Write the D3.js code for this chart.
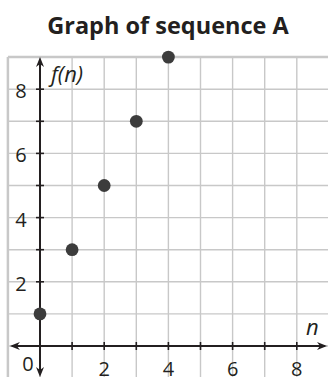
<!DOCTYPE html>
<html>
<head>
<meta charset="utf-8">
<script src="https://cdn.jsdelivr.net/npm/d3@7"></script>
<style>
  html, body { margin: 0; padding: 0; background: #fff; }
  svg { display: block; }
</style>
</head>
<body>
<svg id="chart" width="328" height="377"></svg>
<script>
// Sequence A: f(n) = 2n + 1 for n = 0..4
const nValues = [0, 1, 2, 3, 4];
const fValues = [1, 3, 5, 7, 9];
const xTickLabels = [2, 4, 6, 8];
const yTickLabels = [2, 4, 6, 8];
const tickMarks = [1, 2, 3, 4, 5, 6, 7, 8];
const gridLines = [-1, 0, 1, 2, 3, 4, 5, 6, 7, 8, 9];

const svg = d3.select("#chart");
const unit = 32.1;
const x0 = 40, y0 = 346;
const x = d3.scaleLinear().domain([-1, 9]).range([x0 - unit, x0 + 9 * unit]);
const y = d3.scaleLinear().domain([-1, 9]).range([y0 + unit, y0 - 9 * unit]);

const font = "'Open Sans', 'Noto Sans', sans-serif";
const ink = "#231f20";

// Title
svg.append("text")
  .attr("x", 168).attr("y", 34)
  .attr("text-anchor", "middle")
  .style("font-family", font).style("font-weight", 700).style("font-size", "23.5px")
  .attr("fill", ink)
  .text("Graph of sequence A");

// Grid
const grid = svg.append("g");
grid.selectAll("line.v").data(gridLines).join("line")
  .attr("x1", d => x(d)).attr("x2", d => x(d))
  .attr("y1", y(9)).attr("y2", y(-1))
  .attr("stroke", "#c8c8c8").attr("stroke-width", d => d === -1 ? 2.5 : 1.4);
grid.selectAll("line.h").data(gridLines).join("line")
  .attr("y1", d => y(d)).attr("y2", d => y(d))
  .attr("x1", x(-1)).attr("x2", x(9))
  .attr("stroke", "#c8c8c8").attr("stroke-width", d => d === 9 ? 2.5 : 1.4);

// Axes with arrows at both ends
const arrow = (tipX, tipY, angle) => {
  const len = 10, half = 4, notch = 7;
  svg.append("path")
    .attr("d", `M0,0 L${-len},${-half} L${-notch},0 L${-len},${half} Z`)
    .attr("transform", `translate(${tipX},${tipY}) rotate(${angle})`)
    .attr("fill", ink);
};
svg.append("line")
  .attr("x1", x(-1) + 4).attr("x2", 325)
  .attr("y1", y(0)).attr("y2", y(0))
  .attr("stroke", ink).attr("stroke-width", 2);
svg.append("line")
  .attr("x1", x(0)).attr("x2", x(0))
  .attr("y1", y(9) + 3).attr("y2", 374)
  .attr("stroke", ink).attr("stroke-width", 2);
arrow(327, y(0), 0);
arrow(x(-1) + 2, y(0), 180);
arrow(x(0), y(9), -90);
arrow(x(0), 377, 90);

// Tick marks
svg.selectAll("line.xt").data(tickMarks).join("line")
  .attr("x1", d => x(d)).attr("x2", d => x(d))
  .attr("y1", y(0) - 4).attr("y2", y(0) + 4)
  .attr("stroke", ink).attr("stroke-width", 1.6);
svg.selectAll("line.yt").data(tickMarks).join("line")
  .attr("y1", d => y(d)).attr("y2", d => y(d))
  .attr("x1", x(0) - 4).attr("x2", x(0) + 4)
  .attr("stroke", ink).attr("stroke-width", 1.6);

// Tick labels
svg.selectAll("text.yl").data(yTickLabels).join("text")
  .attr("x", 21).attr("y", d => y(d) + 9)
  .attr("text-anchor", "middle")
  .style("font-family", font).style("font-size", "20px").attr("fill", ink)
  .text(d => d);
svg.selectAll("text.xl").data(xTickLabels).join("text")
  .attr("x", d => x(d)).attr("y", 376)
  .attr("text-anchor", "middle")
  .style("font-family", font).style("font-size", "20px").attr("fill", ink)
  .text(d => d);
svg.append("text")
  .attr("x", 28).attr("y", 371)
  .attr("text-anchor", "middle")
  .style("font-family", font).style("font-size", "20px").attr("fill", ink)
  .text("0");

// Axis titles
svg.append("text")
  .attr("x", 51).attr("y", 82)
  .style("font-family", font).style("font-style", "italic").style("font-size", "22px")
  .attr("fill", ink)
  .text("f(n)");
svg.append("text")
  .attr("x", 306).attr("y", 335)
  .style("font-family", font).style("font-style", "italic").style("font-size", "22px")
  .attr("fill", ink)
  .text("n");

// Sequence points
svg.selectAll("circle").data(nValues).join("circle")
  .attr("cx", (d, i) => x(nValues[i]))
  .attr("cy", (d, i) => y(fValues[i]))
  .attr("r", 6.4)
  .attr("fill", "#3c3c3c");
</script>
</body>
</html>
